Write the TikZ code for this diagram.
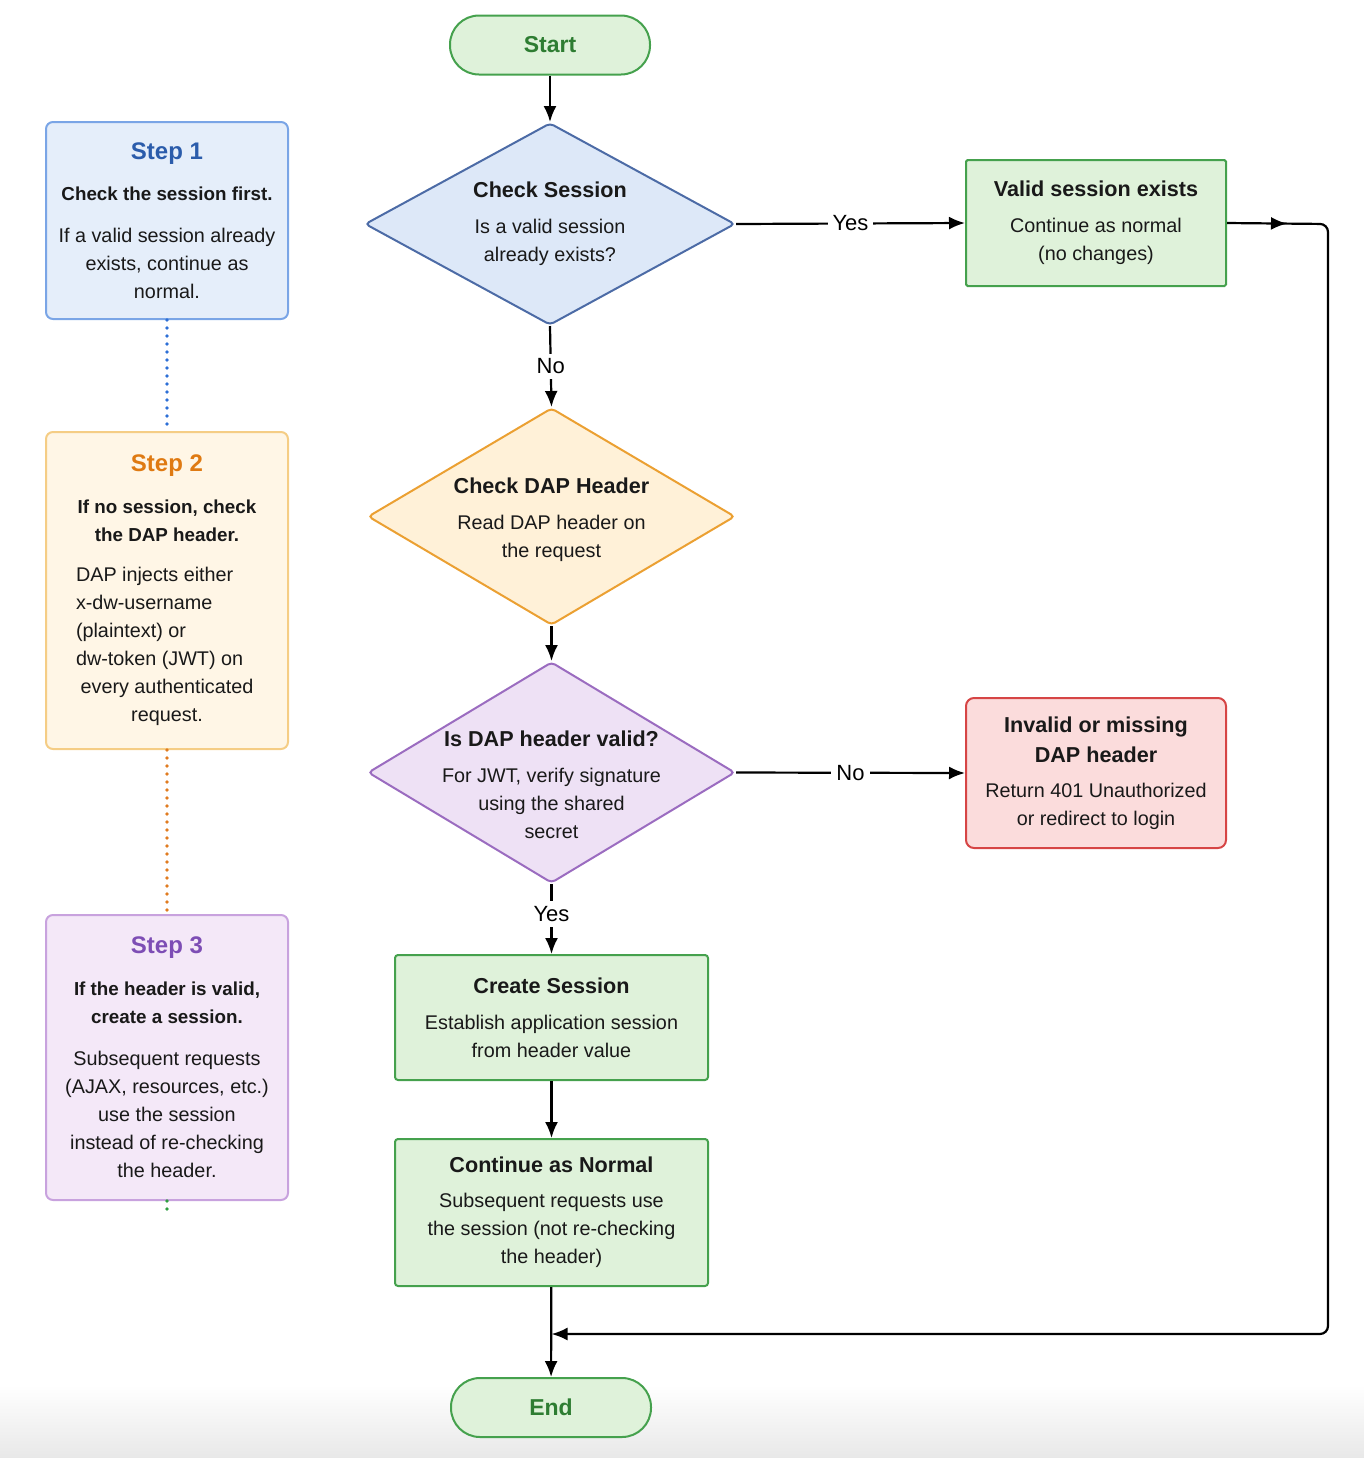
\documentclass[tikz,border=0pt]{standalone}
\usepackage{fontspec}
\setmainfont{Liberation Sans}
\usetikzlibrary{shapes.geometric,arrows.meta,decorations.markings}
\definecolor{grnF}{HTML}{DFF2DA}
\definecolor{grnB}{HTML}{45A14D}
\definecolor{grnT}{HTML}{2E7D32}
\definecolor{bluF}{HTML}{DDE8F8}
\definecolor{bluB}{HTML}{4C6BA6}
\definecolor{orgF}{HTML}{FFF1D8}
\definecolor{orgB}{HTML}{EBA032}
\definecolor{purF}{HTML}{EEE1F5}
\definecolor{purB}{HTML}{9B6CC0}
\definecolor{redF}{HTML}{FBDCDC}
\definecolor{redB}{HTML}{D64545}
\definecolor{sOneF}{HTML}{E5EEFA}
\definecolor{sOneB}{HTML}{7AA5E6}
\definecolor{sOneT}{HTML}{2B5CAB}
\definecolor{sTwoF}{HTML}{FFF6E6}
\definecolor{sTwoB}{HTML}{F5CD85}
\definecolor{sTwoT}{HTML}{DF7A12}
\definecolor{sThrF}{HTML}{F4E8F8}
\definecolor{sThrB}{HTML}{C8A2DE}
\definecolor{sThrT}{HTML}{7D4DB5}
\definecolor{dotB}{HTML}{2D6FD6}
\definecolor{dotO}{HTML}{E07B20}
\definecolor{dotG}{HTML}{2E9E40}
\newcommand{\ttl}[1]{{\fontsize{10.8pt}{14pt}\selectfont\bfseries #1}}
\newcommand{\stt}[2]{{\fontsize{12pt}{14pt}\selectfont\bfseries\color{#1}#2}}
\newcommand{\sub}[1]{{\fontsize{9.4pt}{14pt}\selectfont\bfseries #1}}
\tikzset{
 body/.style={font=\fontsize{9.9pt}{14pt}\selectfont, align=center, text=black!90},
 proc/.style={draw=grnB, fill=grnF, line width=1pt, rounded corners=1.5pt, inner sep=0pt, body},
 term/.style={draw=grnB, fill=grnF, line width=1pt, rounded corners=14.5pt, minimum width=100pt, minimum height=29.5pt, inner sep=0pt, font=\fontsize{11.5pt}{14pt}\selectfont\bfseries, text=grnT},
 dec/.style={diamond, line width=1pt, inner sep=0pt, rounded corners=2pt},
 stepbox/.style={rounded corners=3.5pt, line width=1pt, minimum width=121pt, inner sep=0pt, body},
 tip/.tip={Latex[length=8pt,width=6.5pt]},
 conn/.style={line width=1.1pt, -tip},
 lbl/.style={fill=white, inner sep=2.5pt, font=\fontsize{11pt}{13pt}\selectfont},
 dots/.style={line width=1.8pt, dash pattern=on 0pt off 4pt, line cap=round},
}
\begin{document}
\begin{tikzpicture}[x=0.5pt,y=-0.5pt]
\useasboundingbox (0,0) rectangle (1364,1458);
\shade[top color=white, bottom color=black!9] (0,1385) rectangle (1364,1458);

% main flow
\node[term] (start) at (550,45) {Start};
\node[dec, draw=bluB, fill=bluF, minimum width=185pt, minimum height=101pt] (cs) at (550,224) {};
\node[body] (csT) at (550,224) {\ttl{Check Session}\\[4pt] Is a valid session\\ already exists?};

\node[proc, rounded corners=0.8pt, minimum width=130pt, minimum height=63pt] (valid) at (1096,223)
 {\ttl{Valid session exists}\\[4pt] Continue as normal\\ (no changes)};

\node[dec, draw=orgB, fill=orgF, minimum width=183.5pt, minimum height=108.5pt] (dap) at (551.5,516.5) {};
\node[body] (dapT) at (551.5,520) {\ttl{Check DAP Header}\\[4pt] Read DAP header on\\ the request};

\node[dec, draw=purB, fill=purF, minimum width=183.5pt, minimum height=110.5pt] (dv) at (551.5,772.5) {};
\node[body] (dvT) at (551.5,785) {\ttl{Is DAP header valid?}\\[4pt] For JWT, verify signature\\ using the shared\\ secret};

\node[proc, draw=redB, fill=redF, rounded corners=4pt, minimum width=130pt, minimum height=75pt] (inval) at (1096,773)
 {\ttl{Invalid or missing}\\[1pt] \ttl{DAP header}\\[3.5pt] Return 401 Unauthorized\\ or redirect to login};

\node[proc, minimum width=156.5pt, minimum height=62.5pt] (create) at (551.5,1017.5)
 {\ttl{Create Session}\\[4pt] Establish application session\\ from header value};

\node[proc, minimum width=156.5pt, minimum height=73.5pt] (cont) at (551.5,1212.5)
 {\ttl{Continue as Normal}\\[3.5pt] Subsequent requests use\\ the session (not re-checking\\ the header)};

\node[term] (end) at (551,1407.5) {End};
\coordinate (join) at (551.5,1334);

\draw[conn] (start) -- (cs.north);
\draw[conn] (cs.east) -- node[lbl]{Yes} (valid.west);
\draw[conn] (cs.south) -- node[lbl]{No} (dap.north);
\draw[conn] (dap.south) -- (dv.north);
\draw[conn] (dv.east) -- node[lbl]{No} (inval.west);
\draw[conn] (dv.south) -- node[lbl, pos=0.43]{Yes} (create.north);
\draw[conn] (create) -- (cont);
\draw[conn] (cont) -- (end);
\draw[line width=1.1pt, rounded corners=4pt, -tip,
  decoration={markings, mark=at position 30pt with {\arrow{tip}}}, postaction={decorate}]
  (valid.east) -- (1328,224) -- (1328,1334) -- (join);

% steps
\node[stepbox, draw=sOneB, fill=sOneF, minimum height=98.5pt] (s1) at (167,220.5)
 {\stt{sOneT}{Step 1}\\[6.5pt] \sub{Check the session first.}\\[7pt] If a valid session already\\ exists, continue as\\ normal.};
\node[stepbox, draw=sTwoB, fill=sTwoF, minimum height=158.5pt] (s2) at (167,590.5)
 {\stt{sTwoT}{Step 2}\\[7pt] \sub{If no session, check}\\ \sub{the DAP header.}\\[6pt]
  \makebox[91pt][l]{DAP injects either}\\ \makebox[91pt][l]{x-dw-username}\\ \makebox[91pt][l]{(plaintext) or}\\
  \makebox[91pt][l]{dw-token (JWT) on}\\ every authenticated\\ request.};
\node[stepbox, draw=sThrB, fill=sThrF, minimum height=142.5pt] (s3) at (167,1057.5)
 {\stt{sThrT}{Step 3}\\[7pt] \sub{If the header is valid,}\\ \sub{create a session.}\\[7pt]
  Subsequent requests\\ (AJAX, resources, etc.)\\ use the session\\ instead of re-checking\\ the header.};
\coordinate (s3stub) at (167,1210);
\draw[dots, draw=dotB] (s1.south) -- (s2.north);
\draw[dots, draw=dotO] (s2.south) -- (s3.north);
\draw[dots, draw=dotG] (s3.south) -- (s3stub);
\end{tikzpicture}
\end{document}
